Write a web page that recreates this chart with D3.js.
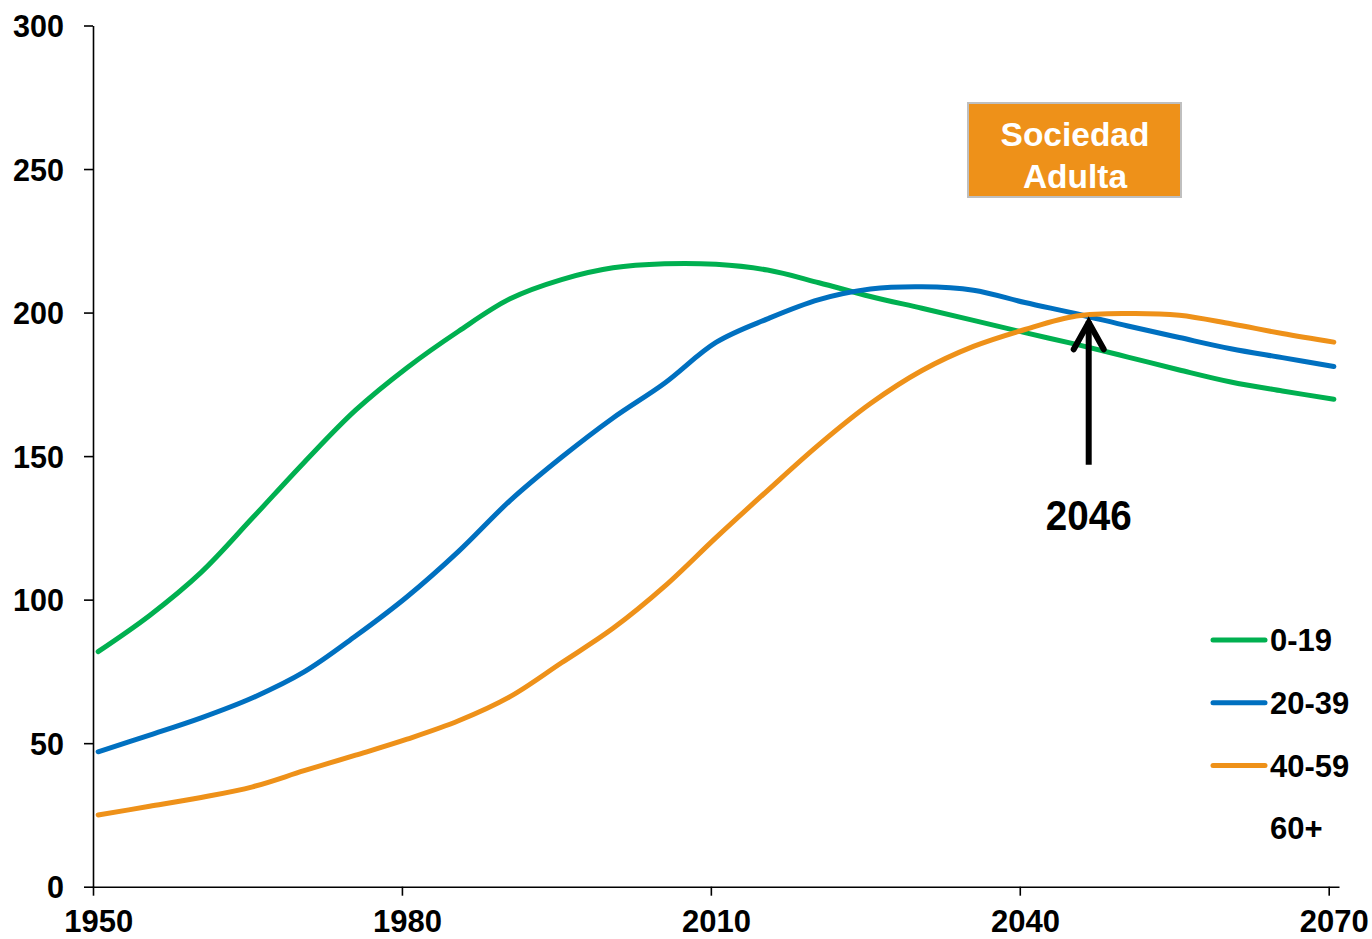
<!DOCTYPE html>
<html>
<head>
<meta charset="utf-8">
<script src="https://cdn.jsdelivr.net/npm/d3@7"></script>
<style>
  html,body{margin:0;padding:0;background:#fff;}
  svg{display:block;font-family:"Liberation Sans",Arial,Helvetica,sans-serif;}
</style>
</head>
<body>
<svg id="chart" width="1372" height="939"></svg>
<script>
// ---- data (5-year steps) ----
const years = [1950,1955,1960,1965,1970,1975,1980,1985,1990,1995,2000,2005,2010,
               2015,2020,2025,2030,2035,2040,2045,2050,2055,2060,2065,2070];
const age0_19  = [81.9,94.5,109.5,128.5,147.8,166.0,180.8,193.5,204.8,211.5,215.6,217.0,216.8,
                  214.8,210.4,205.6,201.5,197.3,193.0,188.9,184.5,180.0,175.8,172.7,169.8];
const age20_39 = [47.0,52.8,58.8,65.8,74.8,87.3,101.0,116.8,134.5,149.6,163.3,175.4,189.6,
                  197.8,204.5,208.2,209.0,207.8,203.5,199.6,195.3,191.3,187.4,184.3,181.2];
const age40_59 = [25.0,28.0,31.1,34.8,40.4,45.8,51.4,57.8,66.2,78.0,90.0,104.6,121.6,
                  138.0,154.0,168.3,179.8,188.2,194.1,198.8,199.7,199.1,196.1,192.7,189.7];
const seriesNames  = ["0-19","20-39","40-59","60+"];
const seriesColors = ["#00B050","#0070C0","#EE9119", null];
const yTicks = [0,50,100,150,200,250,300];
const xTicks = [1950,1980,2010,2040,2070];
const markYear = 2046;
const boxLines = ["Sociedad","Adulta"];

const svg = d3.select("#chart");

// x is a yearly band axis: ticks on year boundaries, points/labels at mid-year
const x = d3.scaleLinear().domain([1950, 2071]).range([93, 1339]);
const y = d3.scaleLinear().domain([0, 300]).range([886.7, 25.5]);
const half = x(1950.5) - x(1950);

// axes
const yAxis = svg.append("g").attr("transform", `translate(${x(1950)},0)`)
  .call(d3.axisLeft(y).tickValues(yTicks).tickSize(9).tickSizeOuter(0));
yAxis.select(".domain").attr("stroke","#000").attr("stroke-width",1.6);
yAxis.selectAll(".tick line").attr("stroke","#000").attr("stroke-width",1.6);
yAxis.selectAll(".tick text")
  .attr("x",-29).attr("dy","0.36em")
  .attr("fill","#000").attr("font-size",30.5).attr("font-weight","bold")
  .attr("font-family","'Liberation Sans',Arial,sans-serif");

const xAxis = svg.append("g").attr("transform", `translate(0,${y(0)})`)
  .call(d3.axisBottom(x).tickValues(xTicks).tickFormat(d3.format("d")).tickSize(9).tickSizeOuter(0));
xAxis.select(".domain").attr("stroke","#000").attr("stroke-width",1.6);
xAxis.selectAll(".tick line").attr("stroke","#000").attr("stroke-width",1.6);
xAxis.selectAll(".tick text")
  .attr("x",half).attr("y",45.5).attr("dy",null)
  .attr("fill","#000").attr("font-size",31).attr("font-weight","bold")
  .attr("font-family","'Liberation Sans',Arial,sans-serif");

// lines
const line = d3.line()
  .x((d,i)=>x(years[i]+0.5))
  .y(d=>y(d))
  .curve(d3.curveCatmullRom.alpha(0.5));
[age0_19, age20_39, age40_59].forEach((vals,k)=>{
  svg.append("path").datum(vals)
    .attr("d", line)
    .attr("fill","none")
    .attr("stroke", seriesColors[k])
    .attr("stroke-width",5)
    .attr("stroke-linecap","round")
    .attr("stroke-linejoin","round");
});

// legend
const lg = svg.append("g");
seriesNames.forEach((name,i)=>{
  const ly = 640 + i*62.7;
  if(seriesColors[i]){
    lg.append("line").attr("x1",1213).attr("x2",1265).attr("y1",ly).attr("y2",ly)
      .attr("stroke",seriesColors[i]).attr("stroke-width",5).attr("stroke-linecap","round");
  }
  lg.append("text").attr("x",1270).attr("y",ly).attr("dy","0.36em")
    .attr("font-size",31).attr("font-weight","bold").attr("fill","#000").text(name);
});

// "Sociedad Adulta" box
const bx = svg.append("g");
bx.append("rect").attr("x",968).attr("y",103).attr("width",213).attr("height",94)
  .attr("fill","#EE9119").attr("stroke","#BFBFBF").attr("stroke-width",2);
boxLines.forEach((t,i)=>{
  bx.append("text").attr("x",1075).attr("y",146 + i*42)
    .attr("text-anchor","middle").attr("font-size",33.5).attr("font-weight","bold")
    .attr("fill","#fff").text(t);
});

// arrow marking the crossing year
const ax = x(markYear + 0.5) + 2;
const tipY = y(198), baseY = y(147);
const ar = svg.append("g").attr("stroke","#000").attr("stroke-width",6).attr("fill","none");
ar.append("line").attr("x1",ax).attr("x2",ax).attr("y1",baseY).attr("y2",tipY+3);
ar.append("path")
  .attr("d",`M${ax-15},${tipY+31}L${ax},${tipY+4}L${ax+15},${tipY+31}`)
  .attr("stroke-linecap","round").attr("stroke-linejoin","miter");
svg.append("text").attr("x",ax).attr("y",530).attr("text-anchor","middle")
  .attr("font-size",42).attr("font-weight","bold").attr("fill","#000")
  .attr("textLength",86).attr("lengthAdjust","spacingAndGlyphs")
  .text(String(markYear));
</script>
</body>
</html>
